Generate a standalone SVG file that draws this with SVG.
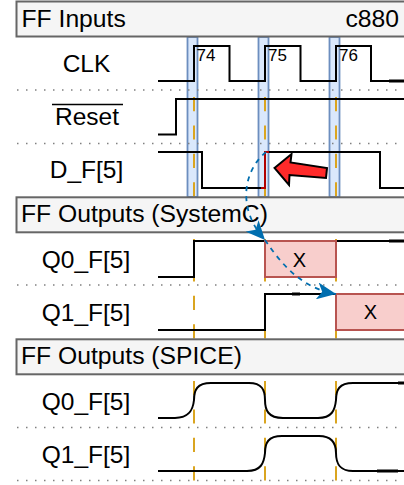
<svg xmlns="http://www.w3.org/2000/svg" width="404" height="485" viewBox="0 0 404 485">
<style>
text{font-family:"Liberation Sans",Arial,sans-serif;fill:#000}
.h{font-size:24.7px}
.l{font-size:24.5px;text-anchor:middle}
.n{font-size:17px}
.x{font-size:20px;text-anchor:middle}
.hb{fill:#f5f5f5;stroke:#666;stroke-width:2}
.band{fill:#dae8fc;stroke:#6c8ebf;stroke-width:1.800}
.dot{stroke:#808080;stroke-width:1.5;stroke-dasharray:1.5 7.5;fill:none}
.edge{stroke:#daa520;stroke-width:2;stroke-dasharray:14.2 14.2;fill:none}
.w{stroke:#000;stroke-width:2;fill:none}
.tk{stroke:#000;stroke-width:3;fill:none}
.xb{fill:#f8cecc;stroke:#b85450;stroke-width:2}
.dep{stroke:#006eaf;stroke-width:1.800;stroke-dasharray:5 5;fill:none;marker-end:url(#ah)}
</style>
<defs>
<marker id="ah" markerUnits="userSpaceOnUse" markerWidth="19" markerHeight="17" refX="19" refY="8.500" orient="auto">
<path d="M19 8.500L0 0L5 8.500L0 17Z" fill="#006eaf"/>
</marker>
</defs>
<rect width="404" height="485" fill="#fff"/>
<g id="clock-bands">
<rect class="band" x="187.500" y="37" width="10" height="160"/>
<rect class="band" x="258.500" y="37" width="10" height="160"/>
<rect class="band" x="329.500" y="37" width="10" height="160"/>
</g>
<g id="row-separators">
<path class="dot" d="M17 90H404M17 143.500H404M17 285H404M17 427.500H404M17 480.500H404"/>
</g>
<g id="edge-markers">
<path class="edge" d="M194 97V481M265 97V481M336 97V481"/>
</g>
<g id="header-inputs"><rect class="hb" x="16.500" y="1.500" width="400" height="35"/><text class="h" x="21.500" y="26.700">FF Inputs</text><text class="h" x="345.500" y="26.700">c880</text></g>
<g id="header-systemc"><rect class="hb" x="16.500" y="197.300" width="400" height="35"/><text class="h" x="21" y="222.300">FF Outputs (SystemC)</text></g>
<g id="header-spice"><rect class="hb" x="16.500" y="339.300" width="400" height="35"/><text class="h" x="21" y="364.300">FF Outputs (SPICE)</text></g>
<g id="sig-clk">
<text class="l" x="86.500" y="72">CLK</text>
<path class="w" d="M158 81H194V46H229.500V81H265V46H300.500V81H336V46H371V81H404"/>
<path class="tk" d="M389 81H404"/>
<text class="n" x="196.500" y="61">74</text><text class="n" x="268" y="61">75</text><text class="n" x="339" y="61">76</text>
</g>
<g id="sig-reset">
<text class="l" x="87" y="125">Reset</text>
<path d="M52 104.500H123" stroke="#000" stroke-width="1.500"/>
<path class="w" d="M158 134.500H176V99H404"/>
</g>
<g id="sig-d">
<text class="l" x="86.500" y="178">D_F[5]</text>
<path class="w" d="M158 152H202V188H265M268 152H380V188H404"/>
<path d="M261 188H265V152H269" fill="none" stroke="#b20000" stroke-width="2"/>
<path id="red-arrow" d="M274.500 168L291.500 154L290.500 162.500L327 168L326 178L289.500 175L289 185Z" fill="#ff2a2a" stroke="#000" stroke-width="2"/>
</g>
<g id="sig-q0-sc">
<text class="l" x="86" y="268">Q0_F[5]</text>
<path class="w" d="M158 277H194V241H265M336 241H404"/>
<rect class="xb" x="265" y="241" width="71" height="36"/>
<text class="x" x="299.500" y="266.500">X</text>
<path class="tk" d="M389 241H404"/>
</g>
<g id="sig-q1-sc">
<text class="l" x="86" y="321">Q1_F[5]</text>
<path class="w" d="M158 330H265V294H345"/>
<path class="tk" d="M292 294H300"/>
<rect class="xb" x="336" y="294" width="80" height="36"/>
<text class="x" x="370.500" y="319">X</text>
</g>
<g id="sig-q0-sp">
<text class="l" x="86" y="410">Q0_F[5]</text>
<path class="w" d="M158 418H175C189 418 193 410 194 400C194 390 197 383 211 383H249C262 383 265 390 265 400C265 410 268 418 283 418H318C332 418 335 410 336 400C336 390 339 383 353 383H404"/>
<path class="tk" d="M398 383H404"/>
</g>
<g id="sig-q1-sp">
<text class="l" x="86" y="463">Q1_F[5]</text>
<path class="w" d="M158 471H247C261 471 264 463 265 453C265 443 268 436 282 436H319C332 436 336 443 336 453C336 463 339 471 353 471H404"/>
<path class="tk" d="M377 471H398"/>
</g>
<g id="connectors">
<path class="dep" d="M266 152C244 170 236 208 265 240"/>
<path class="dep" d="M265 240C280 262 300 288 336 294"/>
</g>
</svg>
